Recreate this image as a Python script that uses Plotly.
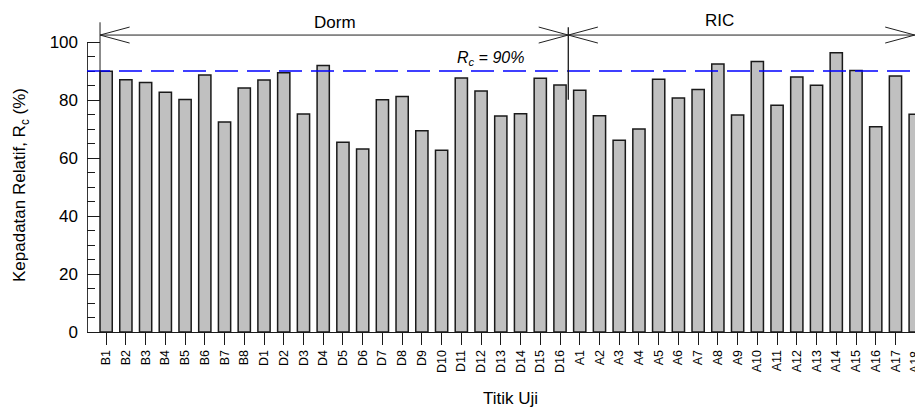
import plotly.graph_objects as go

# ---------------- data ----------------
b_points = ["B1", "B2", "B3", "B4", "B5", "B6", "B7", "B8"]
d_points = ["D1", "D2", "D3", "D4", "D5", "D6", "D7", "D8", "D9", "D10",
            "D11", "D12", "D13", "D14", "D15", "D16"]
a_points = ["A1", "A2", "A3", "A4", "A5", "A6", "A7", "A8", "A9", "A10",
            "A11", "A12", "A13", "A14", "A15", "A16", "A17", "A18"]

b_values = [89.9, 87.0, 86.0, 82.7, 80.2, 88.6, 72.4, 84.1]
d_values = [86.9, 89.4, 75.2, 91.9, 65.4, 63.1, 80.1, 81.2, 69.4, 62.7,
            87.6, 83.1, 74.5, 75.3, 87.5, 85.2]
a_values = [83.4, 74.6, 66.1, 70.0, 87.2, 80.7, 83.6, 92.4, 74.8, 93.3,
            78.2, 87.9, 85.1, 96.3, 90.2, 70.8, 88.3, 75.1]

categories = b_points + d_points + a_points
rc_values = b_values + d_values + a_values

rc_target = 90
group_names = ["Dorm", "RIC"]
group_first = ["B1", "A1"]
group_last = ["D16", "A18"]

y_major_ticks = [0, 20, 40, 60, 80, 100]
y_minor_ticks = [5, 10, 15, 25, 30, 35, 45, 50, 55, 65, 70, 75, 85, 90, 95]

FONT = "Liberation Sans, Arial, sans-serif"

fig = go.Figure()
fig.add_trace(go.Bar(
    x=categories, y=rc_values,
    marker=dict(color="#c0c0c0", line=dict(color="#1a1a1a", width=1.5)),
    showlegend=False, hoverinfo="x+y",
))

n = len(categories)
# the visible window ends just past A17, cutting the last bar (A18)
x_lo, x_hi = -0.97, (n - 2) + 0.99
y_top = 106.9

ML, MT, MB, W, H = 87, 22, 75, 915, 407
PLOT_W = W - ML
PLOT_H = H - MT - MB

def px(idx):
    # category index -> paper x
    return (idx - x_lo) / (x_hi - x_lo)

def py(pixel_y):
    # pixel row (from top of figure) -> paper y
    return (H - MB - pixel_y) / PLOT_H

shapes = []
# y-axis spine (0..100 only)
shapes.append(dict(type="line", xref="x", yref="y", x0=x_lo + 0.02, x1=x_lo + 0.02,
                   y0=0, y1=100, line=dict(color="#1a1a1a", width=1)))
# target line
shapes.append(dict(type="line", xref="paper", yref="y", x0=0, x1=1,
                   y0=rc_target, y1=rc_target,
                   line=dict(color="#0000ff", width=1.5, dash="23px,9px")))

arrow_y = 102.4
arm_dx = 1.5
arm_dy = 2.76
line_style = dict(color="#202020", width=1)

idx_first0 = categories.index(group_first[0])
idx_last0 = categories.index(group_last[0])

left_x = idx_first0 - 0.31
mid_x = idx_last0 + 0.42
right_x = x_hi - 0.01

# vertical boundary lines
shapes.append(dict(type="line", xref="x", yref="y", x0=left_x, x1=left_x,
                   y0=80, y1=106.8, line=line_style))
shapes.append(dict(type="line", xref="x", yref="y", x0=mid_x, x1=mid_x,
                   y0=80.1, y1=105.1, line=dict(color="#1a1a1a", width=1.3)))

# horizontal arrow lines
shapes.append(dict(type="line", xref="x", yref="y", x0=left_x, x1=mid_x,
                   y0=arrow_y, y1=arrow_y, line=line_style))
shapes.append(dict(type="line", xref="x", yref="y", x0=mid_x, x1=right_x,
                   y0=arrow_y, y1=arrow_y, line=line_style))

def arrow_head(tip, direction):
    for s in (1, -1):
        shapes.append(dict(type="line", xref="x", yref="y",
                           x0=tip, x1=tip + direction * arm_dx,
                           y0=arrow_y, y1=arrow_y + s * arm_dy, line=line_style))

arrow_head(left_x, 1)
arrow_head(mid_x, -1)
arrow_head(mid_x, 1)
arrow_head(right_x, -1)

# tick mark + label of the clipped last category (falls at the page edge)
last_idx = n - 1
annotations = [
    dict(text=categories[last_idx], xref="paper", yref="paper",
         x=px(last_idx), y=py(349), textangle=-90, showarrow=False,
         font=dict(family=FONT, size=12.5, color="black"),
         xanchor="center", yanchor="top"),
    dict(text=group_names[0], xref="x", yref="paper", x=11.6, y=py(23),
         showarrow=False, font=dict(family=FONT, size=17, color="black"),
         xanchor="center", yanchor="middle"),
    dict(text=group_names[1], xref="x", yref="paper", x=31.06, y=py(20),
         showarrow=False, font=dict(family=FONT, size=17, color="black"),
         xanchor="center", yanchor="middle"),
    dict(text="<i>R<sub>c</sub> = %d%%</i>" % rc_target, xref="x", yref="y",
         x=19.46, y=94.4, showarrow=False,
         font=dict(family=FONT, size=16, color="black"),
         xanchor="center", yanchor="middle"),
    dict(text="Kepadatan Relatif, R<sub>c</sub> (%)", xref="paper", yref="paper",
         x=-0.0797, y=py(185), textangle=-90, showarrow=False,
         font=dict(family=FONT, size=17, color="black"),
         xanchor="center", yanchor="middle"),
    dict(text="Titik Uji", xref="paper", yref="paper",
         x=0.511, y=py(398), showarrow=False,
         font=dict(family=FONT, size=17, color="black"),
         xanchor="center", yanchor="middle"),
]

fig.update_layout(
    width=W, height=H,
    margin=dict(l=ML, r=0, t=MT, b=MB, pad=0),
    paper_bgcolor="white", plot_bgcolor="white",
    bargap=0.38,
    font=dict(family=FONT, color="black"),
    shapes=shapes, annotations=annotations,
    xaxis=dict(
        type="category", range=[x_lo, x_hi], showgrid=False, zeroline=False,
        showline=True, linecolor="#1a1a1a", linewidth=1,
        ticks="outside", ticklen=12, tickcolor="#1a1a1a", tickwidth=1,
        tickangle=-90, tickfont=dict(family=FONT, size=12.5, color="black"),
        fixedrange=True,
    ),
    yaxis=dict(
        range=[0, y_top], showgrid=False, zeroline=False, showline=False,
        tickmode="array", tickvals=y_major_ticks,
        ticks="inside", ticklen=13, tickcolor="#1a1a1a", tickwidth=1,
        ticklabelstandoff=8,
        tickfont=dict(family=FONT, size=17, color="black"),
        minor=dict(tickmode="array", tickvals=y_minor_ticks, ticks="inside",
                   ticklen=8, tickcolor="#1a1a1a", tickwidth=1, showgrid=False),
        fixedrange=True,
    ),
)

fig.write_html(
    "out.html",
    config={"displayModeBar": False},
    post_script="document.body.style.margin='0';document.body.style.overflow='hidden';",
)
